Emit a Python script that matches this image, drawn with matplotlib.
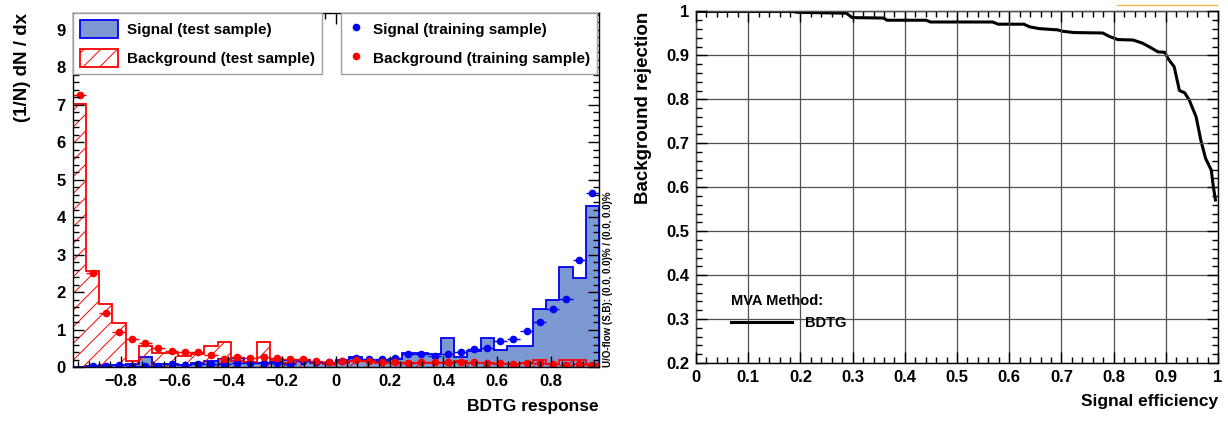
import numpy as np
import matplotlib
matplotlib.use('Agg')
import matplotlib.pyplot as plt
from matplotlib.ticker import MultipleLocator, FuncFormatter
from matplotlib.patches import Patch
from matplotlib.lines import Line2D

plt.rcParams['font.family'] = ['Liberation Sans', 'DejaVu Sans']
plt.rcParams['font.weight'] = 'bold'
plt.rcParams['axes.labelweight'] = 'bold'
plt.rcParams['hatch.linewidth'] = 0.7

# BDTG response histograms, 40 bins
x_lo, x_hi, n_bins = -0.978, 0.978, 40

sig_test = [0.0, 0.03, 0.05, 0.05, 0.08, 0.27, 0.07, 0.07, 0.06, 0.12,
            0.16, 0.22, 0.25, 0.10, 0.12, 0.14, 0.18, 0.18, 0.12, 0.08,
            0.18, 0.26, 0.17, 0.17, 0.21, 0.38, 0.38, 0.34, 0.77, 0.27,
            0.44, 0.77, 0.45, 0.56, 0.56, 1.56, 1.78, 2.67, 2.39, 4.30]
bkg_test = [7.02, 2.57, 1.68, 1.18, 0.16, 0.57, 0.38, 0.37, 0.29, 0.35,
            0.56, 0.67, 0.15, 0.14, 0.68, 0.20, 0.12, 0.15, 0.10, 0.08,
            0.12, 0.16, 0.16, 0.12, 0.12, 0.10, 0.12, 0.12, 0.12, 0.17,
            0.12, 0.12, 0.08, 0.07, 0.10, 0.20, 0.08, 0.19, 0.19, 0.08]
sig_train = [np.nan, 0.03, 0.03, 0.05, 0.04, 0.04, 0.03, 0.07, 0.05, 0.07,
             0.07, 0.09, 0.11, 0.10, 0.11, 0.12, 0.09, 0.16, 0.13, 0.13,
             0.17, 0.24, 0.21, 0.21, 0.23, 0.34, 0.34, 0.30, 0.34, 0.41,
             0.48, 0.51, 0.70, 0.76, 0.97, 1.20, 1.54, 1.83, 2.86, 4.65]
bkg_train = [7.26, 2.50, 1.45, 0.93, 0.74, 0.65, 0.52, 0.43, 0.40, 0.40,
             0.33, 0.21, 0.27, 0.25, 0.26, 0.23, 0.21, 0.22, 0.17, 0.14,
             0.17, 0.18, 0.15, 0.13, 0.13, 0.12, 0.13, 0.14, 0.13, 0.13,
             0.13, 0.12, 0.10, 0.08, 0.10, 0.12, 0.09, 0.05, 0.08, 0.05]

# ROC curve
roc_eff = [0.0, 0.183, 0.195, 0.288, 0.299, 0.359, 0.366, 0.441, 0.449, 0.568,
           0.579, 0.628, 0.639, 0.657, 0.693, 0.702, 0.724, 0.779, 0.792, 0.808,
           0.837, 0.855, 0.869, 0.885, 0.898, 0.904, 0.916, 0.926, 0.936, 0.945,
           0.958, 0.967, 0.976, 0.987, 0.991, 0.995]
roc_rej = [1.0, 1.0, 0.998, 0.996, 0.986, 0.985, 0.980, 0.980, 0.976, 0.976,
           0.971, 0.971, 0.965, 0.961, 0.958, 0.955, 0.952, 0.951, 0.943, 0.936,
           0.935, 0.928, 0.919, 0.908, 0.907, 0.893, 0.874, 0.820, 0.815, 0.798,
           0.760, 0.707, 0.666, 0.639, 0.601, 0.571]

edges = np.linspace(x_lo, x_hi, n_bins + 1)
centers = 0.5 * (edges[1:] + edges[:-1])
half = 0.5 * (edges[1] - edges[0])

sig_fill = '#7d99d1'
sig_line = '#0000ee'


def root_fmt(v, pos):
    if abs(v) < 1e-9:
        return '0'
    return ('%g' % v).replace('-', '\u2212')


def style_axes(ax, minor):
    ax.set_axisbelow(False)
    ax.xaxis.set_minor_locator(MultipleLocator(minor[0]))
    ax.yaxis.set_minor_locator(MultipleLocator(minor[1]))
    ax.xaxis.set_major_formatter(FuncFormatter(root_fmt))
    ax.yaxis.set_major_formatter(FuncFormatter(root_fmt))
    ax.tick_params(which='both', direction='in', top=True, right=True,
                   width=1, labelsize=12)
    ax.tick_params(which='major', length=8, pad=5)
    ax.tick_params(which='minor', length=4)
    for s in ax.spines.values():
        s.set_linewidth(1)


fig = plt.figure(figsize=(12.28, 4.21), dpi=100)
ax1 = fig.add_axes([0.0594, 0.128, 0.4283, 0.841])
ax2 = fig.add_axes([0.5668, 0.1378, 0.4251, 0.835])

# left: classifier output distributions
ax1.stairs(sig_test, edges, fill=True, facecolor=sig_fill, edgecolor='none')
ax1.stairs(sig_test, edges, color=sig_line, lw=1.3)
ax1.stairs(bkg_test, edges, fill=True, facecolor='none', edgecolor='red',
           hatch='//', lw=1.3)
ax1.errorbar(centers, sig_train, xerr=half, fmt='o', color='blue', ms=4.5,
             elinewidth=1, capsize=0)
ax1.errorbar(centers, bkg_train, xerr=half, fmt='o', color='red', ms=4.5,
             elinewidth=1, capsize=0)

ax1.set_xlim(x_lo, x_hi)
ax1.set_ylim(0, 9.45)
ax1.set_xticks(np.arange(-0.8, 0.81, 0.2))
ax1.set_yticks(range(0, 10))
style_axes(ax1, (0.04, 0.2))
ax1.set_xlabel('BDTG response', fontsize=12.5, loc='right')
ax1.xaxis.set_label_coords(1.0, -0.09)
ax1.set_ylabel('(1/N) dN / dx', fontsize=13.5, loc='top')
ax1.yaxis.set_label_coords(-0.08, 1.0)

h_sig = Patch(facecolor=sig_fill, edgecolor=sig_line, lw=1.3)
h_bkg = Patch(facecolor='white', edgecolor='red', hatch='//', lw=1.3)
leg1 = ax1.legend([h_sig, h_bkg], ['Signal (test sample)', 'Background (test sample)'],
                  loc='upper left', bbox_to_anchor=(0.0, 1.0), borderaxespad=0,
                  fontsize=11, fancybox=False, edgecolor='#a0a0a0', framealpha=1,
                  handlelength=2.5, handleheight=1.4, labelspacing=0.75,
                  borderpad=0.45, handletextpad=0.6)
leg1.get_frame().set_linewidth(1)
ax1.add_artist(leg1)

h_st = Line2D([], [], marker='o', color='blue', ls='none', ms=4.5)
h_bt = Line2D([], [], marker='o', color='red', ls='none', ms=4.5)
leg2 = ax1.legend([h_st, h_bt], ['Signal (training sample)', 'Background (training sample)'],
                  loc='upper right', bbox_to_anchor=(0.996, 1.0), borderaxespad=0,
                  fontsize=11, fancybox=False, edgecolor='#a0a0a0', framealpha=1,
                  handlelength=1.0, handleheight=1.4, labelspacing=0.75,
                  borderpad=0.45, handletextpad=0.6)
leg2.get_frame().set_linewidth(1)

ax1.text(1.008, 0.0, 'U/O-flow (S,B): (0.0, 0.0)% / (0.0, 0.0)%',
         transform=ax1.transAxes, rotation=90, fontsize=7,
         ha='left', va='bottom')

# right: ROC curve
ax2.plot(roc_eff, roc_rej, color='black', lw=2.2)
ax2.set_xlim(0, 1)
ax2.set_ylim(0.2, 1)
ax2.set_xticks(np.arange(0, 1.01, 0.1))
ax2.set_yticks(np.arange(0.2, 1.01, 0.1))
style_axes(ax2, (0.02, 0.02))
ax2.grid(True, which='major', color='#505050', lw=0.9)
ax2.set_xlabel('Signal efficiency', fontsize=12.5, loc='right')
ax2.xaxis.set_label_coords(1.0, -0.088)
ax2.set_ylabel('Background rejection', fontsize=13.5, loc='top')
ax2.yaxis.set_label_coords(-0.085, 1.0)

leg3 = ax2.legend([Line2D([], [], color='black', lw=2.2)], ['BDTG'],
                  title='MVA Method:', loc='upper left',
                  bbox_to_anchor=(0.067, 0.195), borderaxespad=0, borderpad=0,
                  frameon=False, fontsize=10.5, title_fontsize=10.5,
                  handlelength=4.2, handletextpad=0.9, alignment='left')
leg3.get_title().set_fontweight('bold')

fig.add_artist(Line2D([0.910, 0.991], [0.988, 0.988], transform=fig.transFigure,
                      color='#ffb347', lw=1))

fig.savefig('out.png', dpi=100)
